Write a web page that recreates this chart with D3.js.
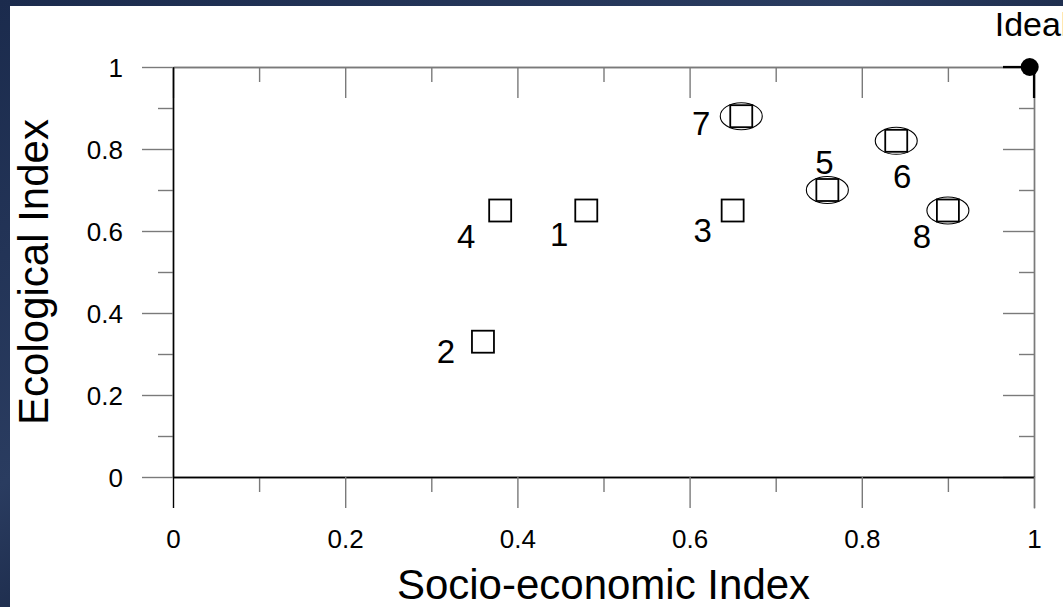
<!DOCTYPE html>
<html>
<head>
<meta charset="utf-8">
<script src="https://cdn.jsdelivr.net/npm/d3@7"></script>
<style>
  html, body { margin: 0; padding: 0; background: #0f1d3a; }
  svg { display: block; font-family: Arial, "Liberation Sans", sans-serif; }
</style>
</head>
<body>
<svg id="chart" width="1063" height="607"></svg>
<script>
// ---- data ----
const siteLabels  = ["1", "2", "3", "4", "5", "6", "7", "8"];
const socioValues = [0.48, 0.36, 0.65, 0.38, 0.76, 0.84, 0.66, 0.90];
const ecoValues   = [0.65, 0.33, 0.65, 0.65, 0.70, 0.82, 0.88, 0.65];
const circled     = [false, false, false, false, true, true, true, true];
const idealSocio  = [0.995];
const idealEco    = [1];
const idealLabel  = ["Ideal"];
const xMajorTicks = [0, 0.2, 0.4, 0.6, 0.8, 1];
const xTickLabels = ["0", "0.2", "0.4", "0.6", "0.8", "1"];
const yMajorTicks = [0, 0.2, 0.4, 0.6, 0.8, 1];
const yTickLabels = ["0", "0.2", "0.4", "0.6", "0.8", "1"];
const minorTicks  = [0.1, 0.3, 0.5, 0.7, 0.9];
const xTitle = "Socio-economic Index";
const yTitle = "Ecological Index";

// ---- layout (pixels, not data) ----
const labelOffsets = [[-27, 35], [-37, 21], [-30, 31], [-34, 37], [-3, -16], [6, 47], [-40, 19], [-26, 37]];
const W = 1063, H = 607;
const plot = { left: 173, right: 1034, top: 67, bottom: 477 };
const major = 31, minor = 15;

const svg = d3.select("#chart");
const defs = svg.append("defs");
const grad = defs.append("linearGradient").attr("id", "bg").attr("x1", 0).attr("y1", 0).attr("x2", 1).attr("y2", 1);
grad.append("stop").attr("offset", "0%").attr("stop-color", "#1b2b4d");
grad.append("stop").attr("offset", "40%").attr("stop-color", "#2a3c60");
grad.append("stop").attr("offset", "70%").attr("stop-color", "#0b1630");
grad.append("stop").attr("offset", "100%").attr("stop-color", "#1d2c4c");
svg.append("rect").attr("width", W).attr("height", H).attr("fill", "url(#bg)");
svg.append("rect").attr("x", 10).attr("y", 6).attr("width", W - 10).attr("height", H - 6).attr("fill", "#ffffff");

const x = d3.scaleLinear().domain([0, 1]).range([plot.left, plot.right]);
const y = d3.scaleLinear().domain([0, 1]).range([plot.bottom, plot.top]);

const grey = "#7a7a7a";
function style(g, domainColor, tickColor) {
  g.attr("font-size", 26).attr("font-family", "Arial, 'Liberation Sans', sans-serif");
  g.select(".domain").attr("stroke", domainColor).attr("stroke-width", 1.4);
  g.selectAll(".tick line").attr("stroke", tickColor).attr("stroke-width", 1.4);
  g.selectAll(".tick text").attr("fill", "#000");
}

// top & right (grey frame, inward ticks)
const gTop = svg.append("g").attr("transform", `translate(0,${plot.top})`);
gTop.append("g").call(d3.axisTop(x).tickValues(minorTicks).tickSizeInner(-minor).tickSizeOuter(0).tickFormat(""))
  .call(g => style(g, grey, grey));
gTop.append("g").call(d3.axisTop(x).tickValues(xMajorTicks).tickSizeInner(-major).tickSizeOuter(0).tickFormat(""))
  .call(g => style(g, grey, grey));

const gRight = svg.append("g").attr("transform", `translate(${plot.right},0)`);
gRight.append("g").call(d3.axisRight(y).tickValues(minorTicks).tickSizeInner(-minor).tickSizeOuter(0).tickFormat(""))
  .call(g => style(g, grey, grey));
gRight.append("g").call(d3.axisRight(y).tickValues(yMajorTicks).tickSizeInner(-major).tickSizeOuter(0).tickFormat(""))
  .call(g => style(g, grey, grey));
// right axis continues below the frame to the bottom tick length
gRight.append("g")
  .call(d3.axisLeft(d3.scaleLinear().domain([0, 1]).range([plot.bottom, plot.bottom + major])).tickValues([]).tickSizeOuter(0))
  .call(g => style(g, grey, grey));

// bottom (black axis, outward ticks)
const gBottom = svg.append("g").attr("transform", `translate(0,${plot.bottom})`);
gBottom.append("g").call(d3.axisBottom(x).tickValues(minorTicks).tickSizeInner(minor).tickSizeOuter(0).tickFormat(""))
  .call(g => style(g, "#000", grey));
gBottom.append("g").call(d3.axisBottom(x).tickValues(xMajorTicks).tickSizeInner(major).tickSizeOuter(0)
  .tickPadding(22).tickFormat((d, i) => xTickLabels[i]))
  .call(g => style(g, "#000", grey));
gBottom.selectAll(".tick").filter(d => d === 0).select("line").attr("stroke", "#000");

// left (black axis, outward ticks)
const gLeft = svg.append("g").attr("transform", `translate(${plot.left},0)`);
gLeft.append("g").call(d3.axisLeft(y).tickValues(minorTicks).tickSizeInner(minor).tickSizeOuter(0).tickFormat(""))
  .call(g => style(g, "#000", grey));
gLeft.append("g").call(d3.axisLeft(y).tickValues(yMajorTicks).tickSizeInner(major).tickSizeOuter(0)
  .tickPadding(19).tickFormat((d, i) => yTickLabels[i]))
  .call(g => style(g, "#000", grey));
gLeft.selectAll(".tick text").attr("dy", "0.36em");

// black corner ticks next to the ideal point
svg.append("line").attr("x1", x(1) - major).attr("x2", x(1)).attr("y1", y(1)).attr("y2", y(1))
  .attr("stroke", "#000").attr("stroke-width", 2.2);
svg.append("line").attr("x1", x(1)).attr("x2", x(1)).attr("y1", y(1)).attr("y2", y(1) + major)
  .attr("stroke", "#000").attr("stroke-width", 2.2);

// titles
svg.append("text").attr("x", (plot.left + plot.right) / 2).attr("y", 599)
  .attr("text-anchor", "middle").attr("font-size", 42).attr("fill", "#000").text(xTitle);
svg.append("text").attr("transform", `translate(48,${(plot.top + plot.bottom) / 2}) rotate(-90)`)
  .attr("text-anchor", "middle").attr("font-size", 42).attr("fill", "#000").text(yTitle);

// data
const pts = siteLabels.map((lab, i) => ({ lab, sx: socioValues[i], ey: ecoValues[i], c: circled[i], off: labelOffsets[i] }));
const sq = 22;
const gPts = svg.append("g");
gPts.selectAll("ellipse").data(pts.filter(d => d.c)).join("ellipse")
  .attr("cx", d => x(d.sx)).attr("cy", d => y(d.ey)).attr("rx", 21).attr("ry", 13.5)
  .attr("fill", "none").attr("stroke", "#000").attr("stroke-width", 1.1);
gPts.selectAll("rect").data(pts).join("rect")
  .attr("x", d => x(d.sx) - sq / 2).attr("y", d => y(d.ey) - sq / 2)
  .attr("width", sq).attr("height", sq)
  .attr("fill", "none").attr("stroke", "#000").attr("stroke-width", 1.8);
gPts.selectAll("text").data(pts).join("text")
  .attr("x", d => x(d.sx) + d.off[0]).attr("y", d => y(d.ey) + d.off[1])
  .attr("text-anchor", "middle").attr("font-size", 33).attr("fill", "#000").text(d => d.lab);

// ideal point
svg.append("circle").attr("cx", x(idealSocio[0])).attr("cy", y(idealEco[0])).attr("r", 9).attr("fill", "#000");
svg.append("text").attr("x", x(idealSocio[0]) - 35).attr("y", 36)
  .attr("font-size", 34).attr("fill", "#000").text(idealLabel[0]);
</script>
</body>
</html>
